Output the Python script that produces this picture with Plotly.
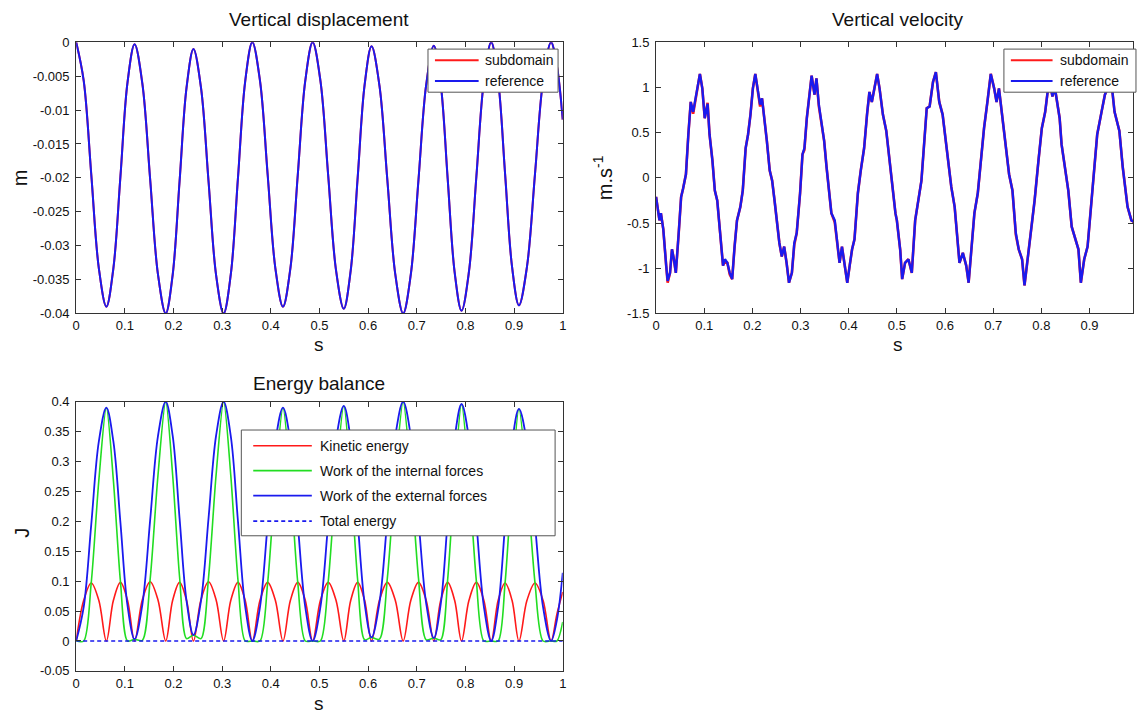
import plotly.graph_objects as go

# ---------------- data ----------------
time_ticks = [0, 0.1, 0.2, 0.3, 0.4, 0.5, 0.6, 0.7, 0.8, 0.9, 1.0]
time_tick_labels = ["0", "0.1", "0.2", "0.3", "0.4", "0.5", "0.6", "0.7", "0.8", "0.9", "1"]
vel_time_ticks = [0, 0.1, 0.2, 0.3, 0.4, 0.5, 0.6, 0.7, 0.8, 0.9]
vel_time_tick_labels = ["0", "0.1", "0.2", "0.3", "0.4", "0.5", "0.6", "0.7", "0.8", "0.9"]

disp_ticks = [0, -0.005, -0.01, -0.015, -0.02, -0.025, -0.03, -0.035, -0.04]
disp_tick_labels = ["0", "-0.005", "-0.01", "-0.015", "-0.02", "-0.025", "-0.03", "-0.035", "-0.04"]

vel_ticks = [1.5, 1, 0.5, 0, -0.5, -1, -1.5]
vel_tick_labels = ["1.5", "1", "0.5", "0", "-0.5", "-1", "-1.5"]

energy_ticks = [0.4, 0.35, 0.3, 0.25, 0.2, 0.15, 0.1, 0.05, 0, -0.05]
energy_tick_labels = ["0.4", "0.35", "0.3", "0.25", "0.2", "0.15", "0.1", "0.05", "0", "-0.05"]

# time samples (s) for displacement and energies
disp_t = [
    0.0, 0.0155, 0.031, 0.0465,
    0.062, 0.0765, 0.091, 0.1055,
    0.120, 0.136, 0.152, 0.168,
    0.184, 0.1983, 0.2125, 0.2268,
    0.241, 0.2565, 0.272, 0.2875,
    0.303, 0.3178, 0.3325, 0.3473,
    0.362, 0.3778, 0.3935, 0.4093,
    0.425, 0.4403, 0.4555, 0.4708,
    0.486, 0.502, 0.518, 0.534,
    0.550, 0.5643, 0.5785, 0.5928,
    0.607, 0.6233, 0.6395, 0.6558,
    0.672, 0.6878, 0.7035, 0.7193,
    0.735, 0.7493, 0.7635, 0.7778,
    0.792, 0.8073, 0.8225, 0.8378,
    0.853, 0.8673, 0.8815, 0.8958,
    0.910, 0.9265, 0.943, 0.9595,
    0.976, 0.988, 1.0]

# vertical displacement (m), reference solution
disp_reference = [
    0.0, -0.0057, -0.0195, -0.0333,
    -0.0390, -0.0333, -0.0197, -0.0059,
    -0.0003, -0.0061, -0.0202, -0.0342,
    -0.0400, -0.0343, -0.0205, -0.0067,
    -0.0010, -0.0067, -0.0205, -0.0343,
    -0.0400, -0.0342, -0.0200, -0.0058,
    0.0, -0.0057, -0.0195, -0.0333,
    -0.0390, -0.0333, -0.0195, -0.0057,
    0.0, -0.0057, -0.0197, -0.0336,
    -0.0393, -0.0336, -0.0200, -0.0063,
    -0.0006, -0.0064, -0.0203, -0.0342,
    -0.0400, -0.0342, -0.0203, -0.0063,
    -0.0005, -0.0062, -0.0201, -0.0339,
    -0.0396, -0.0338, -0.0198, -0.0058,
    0.0, -0.0057, -0.0194, -0.0331,
    -0.0388, -0.0331, -0.0194, -0.0057,
    0.0, -0.0035, -0.0114]
# subdomain solution coincides with the reference at this scale
disp_subdomain = [
    0.0, -0.0057, -0.0195, -0.0333,
    -0.0390, -0.0333, -0.0197, -0.0059,
    -0.0003, -0.0061, -0.0202, -0.0342,
    -0.0400, -0.0343, -0.0205, -0.0067,
    -0.0010, -0.0067, -0.0205, -0.0343,
    -0.0400, -0.0342, -0.0200, -0.0058,
    0.0, -0.0057, -0.0195, -0.0333,
    -0.0390, -0.0333, -0.0195, -0.0057,
    0.0, -0.0057, -0.0197, -0.0336,
    -0.0393, -0.0336, -0.0200, -0.0063,
    -0.0006, -0.0064, -0.0203, -0.0342,
    -0.0400, -0.0342, -0.0203, -0.0063,
    -0.0005, -0.0062, -0.0201, -0.0339,
    -0.0396, -0.0338, -0.0198, -0.0058,
    0.0, -0.0057, -0.0194, -0.0331,
    -0.0388, -0.0331, -0.0194, -0.0057,
    0.0, -0.0035, -0.0114]

# energies (J) on the same time samples
energy_t = disp_t
kinetic_energy = [
    0.0, 0.068, 0.097, 0.068,
    0.0, 0.068, 0.098, 0.068,
    0.0, 0.069, 0.099, 0.069,
    0.0, 0.068, 0.098, 0.068,
    0.0, 0.069, 0.099, 0.069,
    0.0, 0.068, 0.098, 0.068,
    0.0, 0.068, 0.098, 0.068,
    0.0, 0.068, 0.098, 0.068,
    0.0, 0.068, 0.098, 0.068,
    0.0, 0.068, 0.098, 0.068,
    0.0, 0.068, 0.098, 0.068,
    0.0, 0.068, 0.098, 0.068,
    0.0, 0.068, 0.098, 0.068,
    0.0, 0.068, 0.098, 0.068,
    0.0, 0.068, 0.097, 0.068,
    0.0, 0.068, 0.097, 0.068,
    0.0, 0.045, 0.082]
internal_work = [
    0.0, 0.0, 0.098, 0.268,
    0.390, 0.268, 0.099, 0.0,
    0.003, 0.001, 0.103, 0.276,
    0.400, 0.277, 0.107, 0.004,
    0.010, 0.004, 0.106, 0.277,
    0.400, 0.276, 0.102, 0.0,
    0.0, 0.0, 0.097, 0.268,
    0.390, 0.268, 0.097, 0.0,
    0.0, 0.0, 0.099, 0.270,
    0.393, 0.270, 0.102, 0.002,
    0.006, 0.003, 0.105, 0.276,
    0.400, 0.276, 0.105, 0.002,
    0.005, 0.002, 0.103, 0.273,
    0.396, 0.272, 0.100, 0.0,
    0.0, 0.0, 0.097, 0.266,
    0.388, 0.266, 0.097, 0.0,
    0.0, 0.0, 0.032]
external_work = [
    0.0, 0.057, 0.195, 0.333,
    0.390, 0.333, 0.197, 0.059,
    0.003, 0.061, 0.202, 0.342,
    0.400, 0.343, 0.205, 0.067,
    0.010, 0.067, 0.205, 0.343,
    0.400, 0.342, 0.200, 0.058,
    0.0, 0.057, 0.195, 0.333,
    0.390, 0.333, 0.195, 0.057,
    0.0, 0.057, 0.197, 0.336,
    0.393, 0.336, 0.200, 0.063,
    0.006, 0.064, 0.203, 0.342,
    0.400, 0.342, 0.203, 0.063,
    0.005, 0.062, 0.201, 0.339,
    0.396, 0.338, 0.198, 0.058,
    0.0, 0.057, 0.194, 0.331,
    0.388, 0.331, 0.194, 0.057,
    0.0, 0.035, 0.114]
total_t = [0.0, 1.0]
total_energy = [0.0, 0.0]

# vertical velocity (m/s)
vel_t = [
    0.000, 0.0034, 0.007, 0.010, 0.015, 0.021, 0.024, 0.029, 0.033, 0.037,
    0.041, 0.047, 0.052, 0.056, 0.062, 0.067, 0.072, 0.077, 0.081, 0.086,
    0.091, 0.096, 0.101, 0.107, 0.111, 0.117, 0.122, 0.127, 0.133, 0.139,
    0.143, 0.148, 0.153, 0.158, 0.163, 0.168, 0.175, 0.180, 0.186, 0.191,
    0.196, 0.201, 0.206, 0.211, 0.216, 0.220, 0.225, 0.230, 0.236, 0.241,
    0.246, 0.251, 0.256, 0.261, 0.266, 0.271, 0.276, 0.282, 0.287, 0.292,
    0.299, 0.304, 0.308, 0.313, 0.318, 0.323, 0.329, 0.333, 0.338, 0.344,
    0.349, 0.354, 0.359, 0.364, 0.371, 0.377, 0.381, 0.386, 0.392, 0.397,
    0.402, 0.407, 0.412, 0.419, 0.425, 0.432, 0.438, 0.443, 0.448, 0.454,
    0.459, 0.464, 0.471, 0.478, 0.486, 0.490, 0.497, 0.500, 0.507, 0.511,
    0.517, 0.524, 0.531, 0.538, 0.545, 0.551, 0.558, 0.562, 0.568, 0.575,
    0.581, 0.588, 0.595, 0.603, 0.610, 0.613, 0.620, 0.627, 0.630, 0.637,
    0.644, 0.649, 0.656, 0.661, 0.668, 0.675, 0.681, 0.688, 0.695, 0.702,
    0.707, 0.712, 0.719, 0.726, 0.733, 0.740, 0.747, 0.753, 0.760, 0.765,
    0.770, 0.777, 0.786, 0.794, 0.801, 0.808, 0.813, 0.818, 0.823, 0.828,
    0.833, 0.838, 0.842, 0.849, 0.856, 0.863, 0.870, 0.877, 0.882, 0.889,
    0.896, 0.903, 0.910, 0.916, 0.925, 0.932, 0.938, 0.945, 0.952, 0.962,
    0.969, 0.979, 0.987, 0.996]
vel_reference = [
    -0.21, -0.36, -0.47, -0.39, -0.57, -0.97, -1.14, -1.05, -0.79, -0.90,
    -1.05, -0.61, -0.21, -0.12, 0.04, 0.48, 0.84, 0.73, 0.84, 1.02,
    1.15, 0.99, 0.66, 0.82, 0.48, 0.19, -0.14, -0.25, -0.61, -0.97,
    -0.90, -0.94, -1.05, -1.12, -0.76, -0.47, -0.32, -0.14, 0.33, 0.48,
    0.70, 0.99, 1.15, 0.99, 0.81, 0.88, 0.66, 0.41, 0.08, -0.03,
    -0.25, -0.47, -0.72, -0.87, -0.76, -0.94, -1.16, -1.05, -0.72, -0.61,
    -0.17, 0.26, 0.33, 0.66, 0.92, 1.13, 0.92, 1.10, 0.81, 0.59,
    0.41, 0.12, -0.17, -0.39, -0.47, -0.76, -0.94, -0.76, -0.97, -1.16,
    -0.97, -0.79, -0.68, -0.17, 0.08, 0.33, 0.70, 0.95, 0.84, 0.99,
    1.15, 0.99, 0.70, 0.52, 0.12, -0.07, -0.39, -0.47, -0.80, -1.12,
    -0.94, -0.90, -1.05, -0.47, -0.21, -0.03, 0.48, 0.77, 0.79, 1.06,
    1.17, 0.84, 0.70, 0.37, 0.04, -0.10, -0.32, -0.76, -0.94, -0.83,
    -0.97, -1.16, -0.76, -0.39, -0.17, 0.26, 0.55, 0.84, 1.15, 0.99,
    0.84, 0.99, 0.66, 0.30, 0.04, -0.14, -0.61, -0.79, -0.90, -1.19,
    -0.97, -0.68, -0.25, 0.19, 0.55, 0.73, 0.95, 1.05, 0.90, 1.00,
    0.80, 0.66, 0.37, 0.12, -0.14, -0.54, -0.68, -0.79, -1.16, -0.90,
    -0.76, -0.32, 0.12, 0.48, 0.73, 0.92, 1.00, 1.08, 0.73, 0.52,
    0.12, -0.32, -0.47, -0.50]
vel_subdomain = [
    -0.21, -0.36, -0.47, -0.39, -0.57, -0.97, -1.16, -1.05, -0.79, -0.90,
    -1.05, -0.61, -0.21, -0.12, 0.04, 0.48, 0.84, 0.71, 0.84, 1.02,
    1.15, 0.99, 0.66, 0.83, 0.48, 0.19, -0.14, -0.25, -0.61, -0.97,
    -0.92, -0.94, -1.07, -1.12, -0.76, -0.47, -0.32, -0.14, 0.33, 0.48,
    0.70, 0.99, 1.15, 0.99, 0.79, 0.88, 0.66, 0.41, 0.08, -0.03,
    -0.25, -0.47, -0.72, -0.87, -0.76, -0.94, -1.16, -1.05, -0.74, -0.61,
    -0.17, 0.26, 0.31, 0.66, 0.92, 1.13, 0.92, 1.10, 0.79, 0.59,
    0.41, 0.12, -0.17, -0.39, -0.49, -0.76, -0.94, -0.76, -0.97, -1.16,
    -0.97, -0.79, -0.68, -0.17, 0.08, 0.33, 0.70, 0.95, 0.84, 0.99,
    1.15, 0.99, 0.70, 0.52, 0.12, -0.07, -0.39, -0.47, -0.80, -1.12,
    -0.94, -0.90, -1.05, -0.47, -0.21, -0.03, 0.48, 0.77, 0.79, 1.06,
    1.17, 0.84, 0.70, 0.37, 0.04, -0.10, -0.32, -0.76, -0.94, -0.83,
    -0.97, -1.16, -0.76, -0.39, -0.17, 0.26, 0.55, 0.84, 1.15, 0.99,
    0.84, 0.99, 0.66, 0.30, 0.04, -0.14, -0.63, -0.79, -0.90, -1.19,
    -0.97, -0.68, -0.25, 0.19, 0.55, 0.73, 0.95, 1.05, 0.90, 1.00,
    0.80, 0.66, 0.37, 0.12, -0.14, -0.54, -0.68, -0.79, -1.16, -0.90,
    -0.76, -0.32, 0.12, 0.48, 0.73, 0.92, 1.00, 1.08, 0.73, 0.52,
    0.12, -0.32, -0.47, -0.50]

# ---------------- figure ----------------
W, H = 1137, 722
FONT = "Liberation Sans, Arial, sans-serif"
RED = "#ff1a1a"
GREEN = "#22dd22"
BLUE = "#1a1aee"
FRAME = "#333333"


def px(x):
    return x / W


def py(y):
    return 1 - y / H


fig = go.Figure()

# Vertical displacement
fig.add_trace(go.Scatter(x=disp_t, y=disp_subdomain, name="subdomain", mode="lines",
                         line=dict(color=RED, width=2, shape="spline"),
                         xaxis="x", yaxis="y", showlegend=False))
fig.add_trace(go.Scatter(x=disp_t, y=disp_reference, name="reference", mode="lines",
                         line=dict(color=BLUE, width=2, shape="spline"),
                         xaxis="x", yaxis="y", showlegend=False))

# Vertical velocity
fig.add_trace(go.Scatter(x=vel_t, y=vel_subdomain, name="subdomain", mode="lines",
                         line=dict(color=RED, width=2.6),
                         xaxis="x2", yaxis="y2", showlegend=False))
fig.add_trace(go.Scatter(x=vel_t, y=vel_reference, name="reference", mode="lines",
                         line=dict(color=BLUE, width=2.4),
                         xaxis="x2", yaxis="y2", showlegend=False))

# Energy balance
fig.add_trace(go.Scatter(x=energy_t, y=kinetic_energy, name="Kinetic energy", mode="lines",
                         line=dict(color=RED, width=1.6, shape="spline", smoothing=1.0),
                         xaxis="x3", yaxis="y3", showlegend=False))
fig.add_trace(go.Scatter(x=energy_t, y=internal_work, name="Work of the internal forces",
                         mode="lines",
                         line=dict(color=GREEN, width=1.6, shape="spline", smoothing=0.8),
                         xaxis="x3", yaxis="y3", showlegend=False))
fig.add_trace(go.Scatter(x=energy_t, y=external_work, name="Work of the external forces",
                         mode="lines", line=dict(color=BLUE, width=1.8, shape="spline"),
                         xaxis="x3", yaxis="y3", showlegend=False))
fig.add_trace(go.Scatter(x=total_t, y=total_energy, name="Total energy", mode="lines",
                         line=dict(color=BLUE, width=1.6, dash="4px,3px"),
                         xaxis="x3", yaxis="y3", showlegend=False))

axis_common = dict(
    showgrid=False, zeroline=False, showline=True, linecolor=FRAME, linewidth=1,
    mirror="ticks", ticks="inside", ticklen=5, tickwidth=1, tickcolor=FRAME,
    tickfont=dict(family=FONT, size=13, color="#111111"), tickmode="array",
)

left_dom = [px(72.7), px(562.7)]
right_dom = [px(656.7), 1.0]
top_dom = [py(313), py(36)]
bottom_dom = [py(678), py(403)]

fig.update_layout(
    width=W, height=H,
    margin=dict(l=0, r=0, t=0, b=0),
    paper_bgcolor="white", plot_bgcolor="white",
    showlegend=False,
    xaxis=dict(axis_common, domain=left_dom, range=[0, 1], anchor="y",
               tickvals=time_ticks, ticktext=time_tick_labels),
    yaxis=dict(axis_common, domain=top_dom, range=[-0.04, 0], anchor="x",
               tickvals=disp_ticks, ticktext=disp_tick_labels, ticklabelstandoff=3),
    xaxis2=dict(axis_common, domain=right_dom, range=[0, (W - 656.7) / 485.0], anchor="y2",
                tickvals=vel_time_ticks, ticktext=vel_time_tick_labels),
    yaxis2=dict(axis_common, domain=top_dom, range=[-1.5, 1.5], anchor="x2",
                tickvals=vel_ticks, ticktext=vel_tick_labels, ticklabelstandoff=3),
    xaxis3=dict(axis_common, domain=left_dom, range=[0, 1], anchor="y3",
                tickvals=time_ticks, ticktext=time_tick_labels),
    yaxis3=dict(axis_common, domain=bottom_dom, range=[-0.05, 0.4], anchor="x3",
                tickvals=energy_ticks, ticktext=energy_tick_labels, ticklabelstandoff=3),
)

annotations = []
shapes = []


def text(x, y, s, size, angle=0, xanchor="center"):
    annotations.append(dict(
        x=px(x), y=py(y), xref="paper", yref="paper", text=s, showarrow=False,
        xanchor=xanchor, yanchor="middle", textangle=angle,
        font=dict(family=FONT, size=size, color="#111111")))


# titles and axis labels
text(317.7, 13, "Vertical displacement", 19)
text(900, 13, "Vertical velocity", 19)
text(317.7, 384, "Energy balance", 19)
text(317.7, 345, "s", 19)
text(900, 345, "s", 19)
text(317.7, 711, "s", 19)
text(17, 174, "m", 20, angle=-90)
text(603, 174, "m.s<sup>-1</sup>", 20, angle=-90)
text(18, 537, "J", 20, angle=-90)


def legend_box(x0, y0, x1, y1):
    shapes.append(dict(type="rect", xref="paper", yref="paper",
                       x0=px(x0), x1=px(x1), y0=py(y1), y1=py(y0),
                       fillcolor="white", line=dict(color="#555555", width=1),
                       layer="above"))


def legend_item(x0, x1, y, color, label, tx, width=2, dash="solid"):
    shapes.append(dict(type="line", xref="paper", yref="paper",
                       x0=px(x0), x1=px(x1), y0=py(y), y1=py(y),
                       line=dict(color=color, width=width, dash=dash), layer="above"))
    text(tx, y, label, 14, xanchor="left")


# legend of the displacement plot
legend_box(427, 43, 558, 87)
legend_item(434, 478, 54.5, RED, "subdomain", 482)
legend_item(434, 478, 75.5, BLUE, "reference", 482)

# legend of the velocity plot
legend_box(1007, 43, 1140, 87)
legend_item(1014, 1056, 54.5, RED, "subdomain", 1061)
legend_item(1014, 1056, 75.5, BLUE, "reference", 1061)

# legend of the energy plot
legend_box(239, 432, 555, 540)
legend_item(251, 310, 448, RED, "Kinetic energy", 316, width=1.6)
legend_item(251, 310, 473.5, GREEN, "Work of the internal forces", 316, width=1.6)
legend_item(251, 310, 499, BLUE, "Work of the external forces", 316, width=1.8)
legend_item(251, 310, 525, BLUE, "Total energy", 316, width=1.6, dash="4px,3px")

fig.update_layout(annotations=annotations, shapes=shapes)

fig.write_html("out.html")
